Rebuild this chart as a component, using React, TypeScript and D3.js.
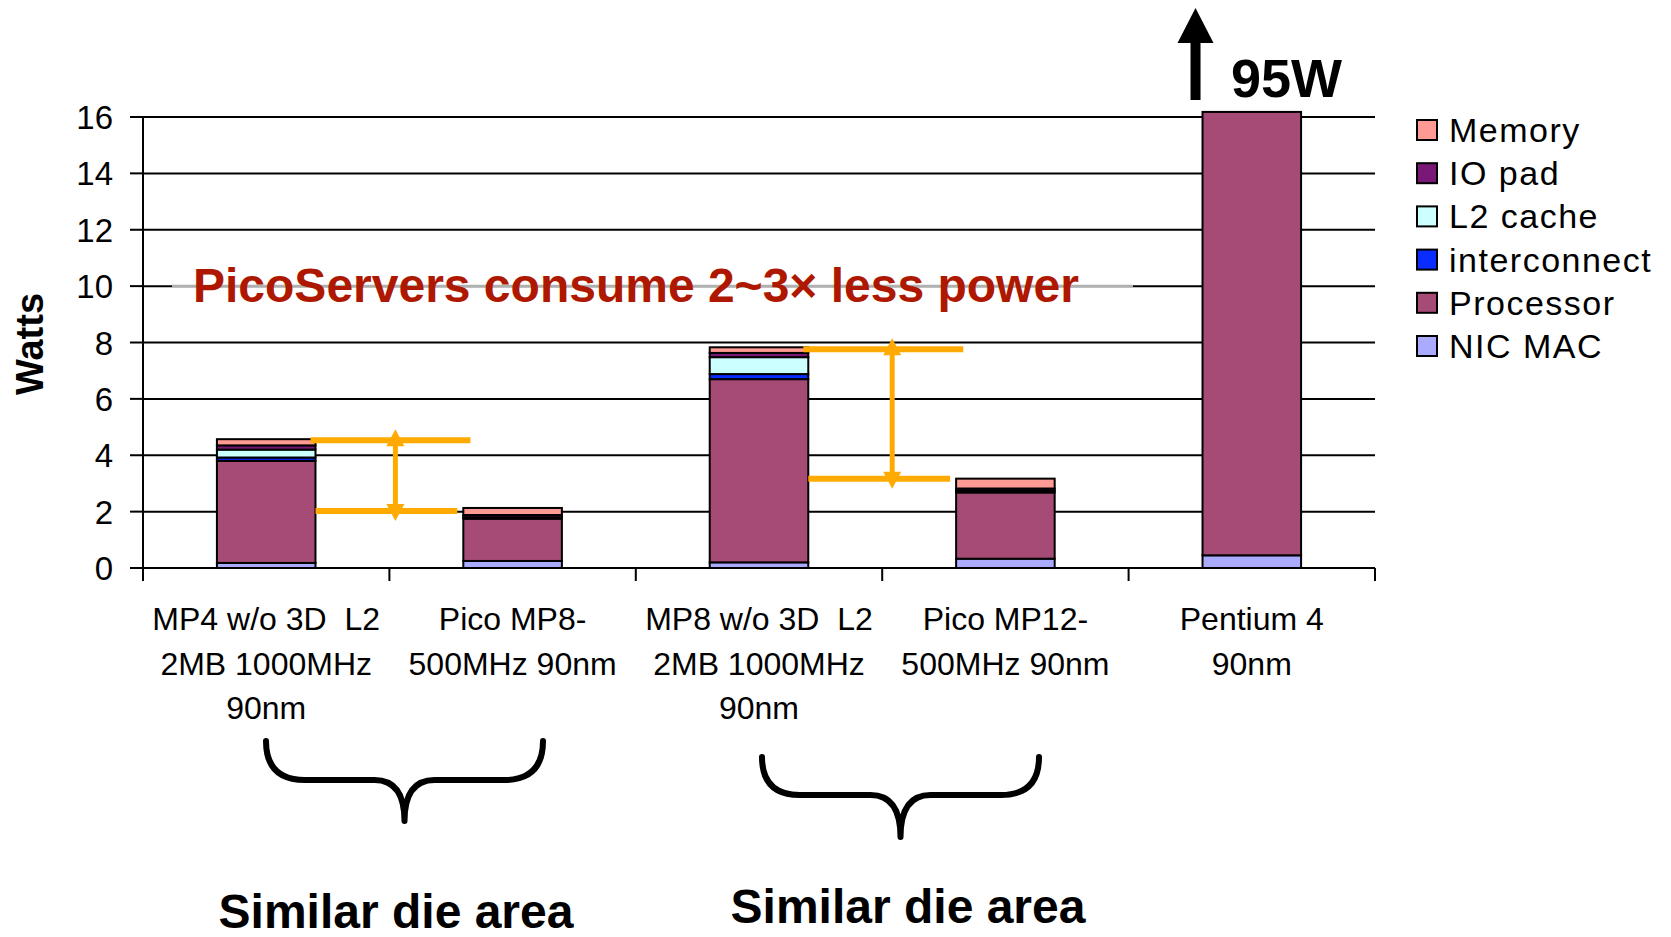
import React from "react";
import * as d3 from "d3";

// ---------- data ----------
const categoryLines: string[][] = [
  ["MP4 w/o 3D  L2", "2MB 1000MHz", "90nm"],
  ["Pico MP8-", "500MHz 90nm"],
  ["MP8 w/o 3D  L2", "2MB 1000MHz", "90nm"],
  ["Pico MP12-", "500MHz 90nm"],
  ["Pentium 4", "90nm"],
];
const categories = ["MP4", "PicoMP8", "MP8", "PicoMP12", "Pentium4"];
const seriesNames = ["NIC MAC", "Processor", "interconnect", "L2 cache", "IO pad", "Memory"];
const seriesColors = ["#AAAAFF", "#A64A76", "#0A2CFF", "#CCFFFF", "#7A1878", "#FF9A94"];
const nicMac = [0.18, 0.25, 0.2, 0.33, 0.45];
const processor = [3.62, 1.5, 6.5, 2.35, 94.55];
const interconnect = [0.12, 0.05, 0.18, 0.06, 0];
const l2Cache = [0.28, 0, 0.6, 0, 0];
const ioPad = [0.15, 0.08, 0.15, 0.08, 0];
const memory = [0.22, 0.25, 0.2, 0.35, 0];
const yTicks = [0, 2, 4, 6, 8, 10, 12, 14, 16];
const yMax = 16;
const visibleMax = 16.18;
const titleText = "PicoServers consume 2~3\u00d7 less power";
const offScaleLabel = "95W";
const braceLabel = "Similar die area";

// ---------- layout ----------
const W = 1671;
const H = 937;
const plot = { left: 143, right: 1375, top: 117, bottom: 568 };
const FONT = "'Liberation Sans', Arial, Helvetica, sans-serif";
const ORANGE = "#FFAA00";

const seriesValues = [nicMac, processor, interconnect, l2Cache, ioPad, memory];
const rows = categories.map((c, i) => {
  const r: any = { cat: c };
  seriesNames.forEach((s, j) => (r[s] = seriesValues[j][i]));
  return r;
});
const totals = categories.map((_, i) => seriesValues.reduce((a, s) => a + s[i], 0));

export default function App() {
  const x = d3.scaleBand<string>().domain(categories).range([plot.left, plot.right]).padding(0);
  const y = d3.scaleLinear().domain([0, yMax]).range([plot.bottom, plot.top]);
  const step = x.step();
  const barW = step * 0.4;
  const barLeft = (i: number) => (x(categories[i]) as number) + (step - barW) / 2;
  const barRight = (i: number) => barLeft(i) + barW;
  const stack = d3.stack<any>().keys(seriesNames)(rows);
  const clampV = (v: number) => Math.min(v, visibleMax);

  const compArrows = [
    { from: 0, to: 1, shift: 6, dt: 1, db: 3 },
    { from: 2, to: 3, shift: 10, dt: 2, db: 0 },
  ];

  const braces = [
    { x0: 266, x1: 543, top: 741, h: 780, tip: 821, labelX: 396, labelY: 928 },
    { x0: 762, x1: 1039, top: 757, h: 795, tip: 837, labelX: 908, labelY: 923 },
  ];

  const bracePath = (b: any) => {
    const cx = (b.x0 + b.x1) / 2;
    const r = b.h - b.top;
    const r2 = 30;
    return `M${b.x0},${b.top} Q${b.x0},${b.h} ${b.x0 + r},${b.h} L${cx - r2},${b.h} Q${cx},${b.h} ${cx},${b.tip} Q${cx},${b.h} ${cx + r2},${b.h} L${b.x1 - r},${b.h} Q${b.x1},${b.h} ${b.x1},${b.top}`;
  };

  const legendOrder = [...seriesNames].reverse();
  const legendColors = [...seriesColors].reverse();
  const lastX = barLeft(4);

  return (
    <svg
      width={W}
      height={H}
      style={{ position: "absolute", left: 0, top: 0, background: "#fff" }}
      fontFamily={FONT}
    >
      <rect x={0} y={0} width={W} height={H} fill="#fff" />
      {/* gridlines */}
      {yTicks.filter((t) => t > 0).map((t) => (
        <line key={"g" + t} x1={plot.left} x2={plot.right} y1={y(t)} y2={y(t)} stroke="#000" strokeWidth={2} />
      ))}
      {/* gray portion behind title */}
      <line x1={172} x2={1133} y1={y(10)} y2={y(10)} stroke="#fff" strokeWidth={3} />
      <line x1={172} x2={1133} y1={y(10)} y2={y(10)} stroke="#B0B0B0" strokeWidth={3} />

      {/* bars */}
      {stack.map((layer, si) =>
        layer.map((d, i) => {
          const y0 = clampV(d[0]);
          const y1 = clampV(d[1]);
          if (y1 - y0 <= 0) return null;
          return (
            <rect
              key={si + "-" + i}
              x={barLeft(i)}
              width={barW}
              y={y(y1)}
              height={y(y0) - y(y1)}
              fill={seriesColors[si]}
              stroke="#000"
              strokeWidth={2}
            />
          );
        })
      )}

      {/* axes */}
      <line x1={plot.left} x2={plot.left} y1={plot.top} y2={plot.bottom + 13} stroke="#000" strokeWidth={2} />
      <line x1={plot.left - 1} x2={plot.right} y1={plot.bottom} y2={plot.bottom} stroke="#000" strokeWidth={2} />
      {yTicks.map((t) => (
        <g key={"yt" + t}>
          <line x1={plot.left - 13} x2={plot.left} y1={y(t)} y2={y(t)} stroke="#000" strokeWidth={2} />
          <text x={113} y={y(t) + 12} textAnchor="end" fontSize={33} fill="#000">
            {t}
          </text>
        </g>
      ))}
      {d3.range(categories.length + 1).map((k) => {
        const xx = plot.left + k * step;
        return <line key={"xt" + k} x1={xx} x2={xx} y1={plot.bottom} y2={plot.bottom + 13} stroke="#000" strokeWidth={2} />;
      })}
      {categoryLines.map((lines, i) => (
        <text
          key={"cl" + i}
          x={(x(categories[i]) as number) + step / 2}
          textAnchor="middle"
          fontSize={32}
          fill="#000"
          style={{ whiteSpace: "pre" }}
        >
          {lines.map((l, k) => (
            <tspan key={k} x={(x(categories[i]) as number) + step / 2} y={630 + k * 44.7}>
              {l}
            </tspan>
          ))}
        </text>
      ))}

      {/* y title */}
      <text
        transform={`translate(43,${344}) rotate(-90)`}
        textAnchor="middle"
        fontSize={38}
        fontWeight="bold"
        fill="#000"
      >
        Watts
      </text>

      {/* title annotation */}
      <text x={193} y={302} fontSize={48} fontWeight="bold" fill="#AE1800">
        {titleText}
      </text>

      {/* comparison arrows */}
      {compArrows.map((a, k) => {
        const yt = y(totals[a.from]) + a.dt;
        const yb = y(totals[a.to]) + a.db;
        const vx = plot.left + (a.from + 1) * step + a.shift;
        return (
          <g key={"ca" + k}>
            <line x1={barRight(a.from) - 5} x2={barRight(a.from) + 155} y1={yt} y2={yt} stroke={ORANGE} strokeWidth={6} />
            <line x1={barRight(a.from)} x2={barLeft(a.to) - 6} y1={yb} y2={yb} stroke={ORANGE} strokeWidth={6} />
            <line x1={vx} x2={vx} y1={yt} y2={yb} stroke={ORANGE} strokeWidth={5} />
            <path d={`M${vx},${yt - 11} L${vx - 9},${yt + 6} L${vx + 9},${yt + 6} Z`} fill={ORANGE} />
            <path d={`M${vx},${yb + 10} L${vx - 9},${yb - 7} L${vx + 9},${yb - 7} Z`} fill={ORANGE} />
          </g>
        );
      })}

      {/* off-scale arrow */}
      <rect x={lastX - 12} y={40} width={10} height={60} fill="#000" />
      <path d={`M${lastX - 7},8 L${lastX - 25},43 L${lastX + 11},43 Z`} fill="#000" />
      <text x={1231} y={97} fontSize={54} fontWeight="bold" fill="#000">
        {offScaleLabel}
      </text>

      {/* legend */}
      {legendOrder.map((s, k) => {
        const cy = 130 + k * 43.2;
        return (
          <g key={"lg" + k}>
            <rect x={1417} y={cy - 10} width={20} height={20} fill={legendColors[k]} stroke="#000" strokeWidth={2} />
            <text x={1449} y={cy + 12} fontSize={34} letterSpacing={1.5} fill="#000">
              {s}
            </text>
          </g>
        );
      })}

      {/* braces */}
      {braces.map((b, k) => (
        <g key={"br" + k}>
          <path d={bracePath(b)} fill="none" stroke="#000" strokeWidth={6} strokeLinecap="round" strokeLinejoin="round" />
          <text x={b.labelX} y={b.labelY} textAnchor="middle" fontSize={48} fontWeight="bold" fill="#000">
            {braceLabel}
          </text>
        </g>
      ))}
    </svg>
  );
}
